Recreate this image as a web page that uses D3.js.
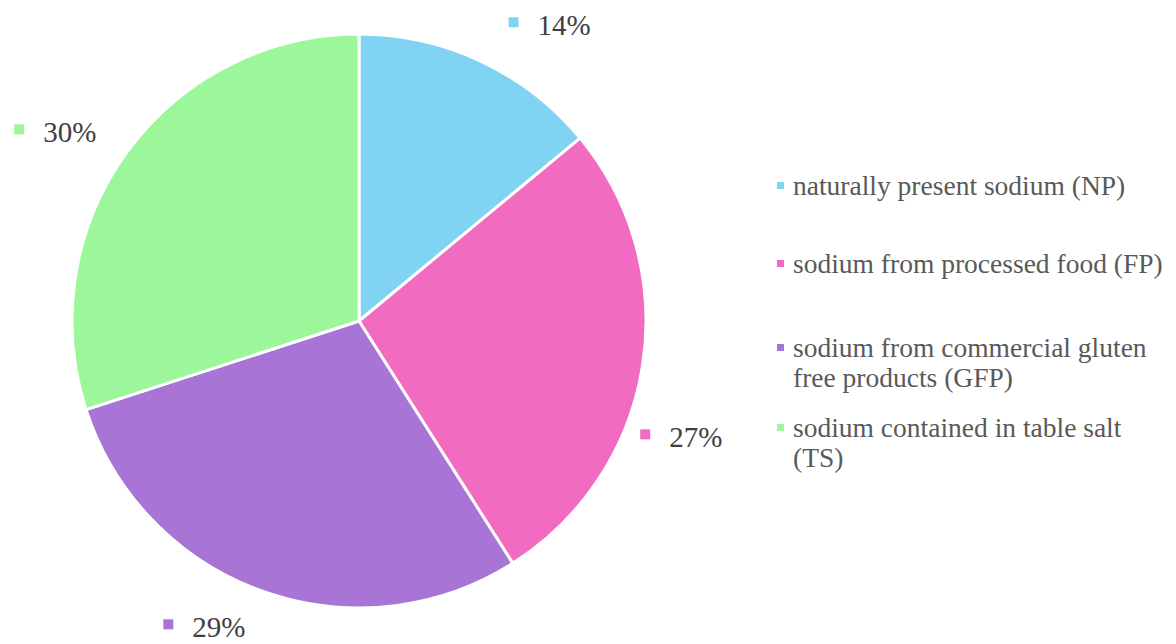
<!DOCTYPE html>
<html><head><meta charset="utf-8">
<script src="https://cdn.jsdelivr.net/npm/d3@7"></script>
<style>html,body{margin:0;padding:0;background:#fff;}svg{display:block;}</style>
</head><body>
<svg id="chart" width="1176" height="644"></svg>
<script>
const categories = ["naturally present sodium (NP)", "sodium from processed food (FP)", "sodium from commercial gluten free products (GFP)", "sodium contained in table salt (TS)"];
const legendLines = [["naturally present sodium (NP)"], ["sodium from processed food (FP)"], ["sodium from commercial gluten", "free products (GFP)"], ["sodium contained in table salt", "(TS)"]];
const values = [14, 27, 29, 30];
const valueLabels = ["14%", "27%", "29%", "30%"];

const colors = ["#80d3f2", "#f16bc0", "#a874d5", "#9bf79a"];
const svg = d3.select("#chart");
const cx = 359, cy = 321, R = 287;

const pie = d3.pie().sort(null).value(d => d)(values);
const arc = d3.arc().innerRadius(0).outerRadius(R);
const g = svg.append("g").attr("transform", `translate(${cx},${cy})`);
g.selectAll("path").data(pie).enter().append("path")
  .attr("d", arc).attr("fill", (d, i) => colors[i])
  .attr("stroke", "#fff").attr("stroke-width", 3).attr("stroke-linejoin", "round");

// data labels (layout: angle nudge in degrees and label radius)
const angleNudge = [7.7, 11, 6.9, -4.3];
const labelR = [351, 343, 344, 357];
const font = "Liberation Serif, Times New Roman, serif";
pie.forEach((d, i) => {
  const a = (d.startAngle + d.endAngle) / 2 + angleNudge[i] * Math.PI / 180;
  const x = Math.sin(a) * labelR[i], y = -Math.cos(a) * labelR[i];
  const lg = g.append("g").attr("transform", `translate(${x},${y})`);
  const t = lg.append("text").attr("y", 9)
    .attr("font-family", font)
    .attr("font-size", 29).attr("fill", "#404040").text(valueLabels[i]);
  const w = t.node().getComputedTextLength();
  const gw = 29 + w;
  t.attr("x", -gw / 2 + 29);
  lg.append("rect").attr("x", -gw / 2).attr("y", -9).attr("width", 10).attr("height", 10).attr("fill", colors[i]);
});

// legend
const legY = [195, 273, 357, 437];
const leg = svg.append("g");
legendLines.forEach((lines, i) => {
  leg.append("rect").attr("x", 777).attr("y", legY[i] - 13).attr("width", 7).attr("height", 7).attr("fill", colors[i]);
  lines.forEach((ln, j) => {
    leg.append("text").attr("x", 793).attr("y", legY[i] + j * 30)
      .attr("font-family", font)
      .attr("font-size", 27.5).attr("fill", "#595959").text(ln);
  });
});
</script>
</body></html>
